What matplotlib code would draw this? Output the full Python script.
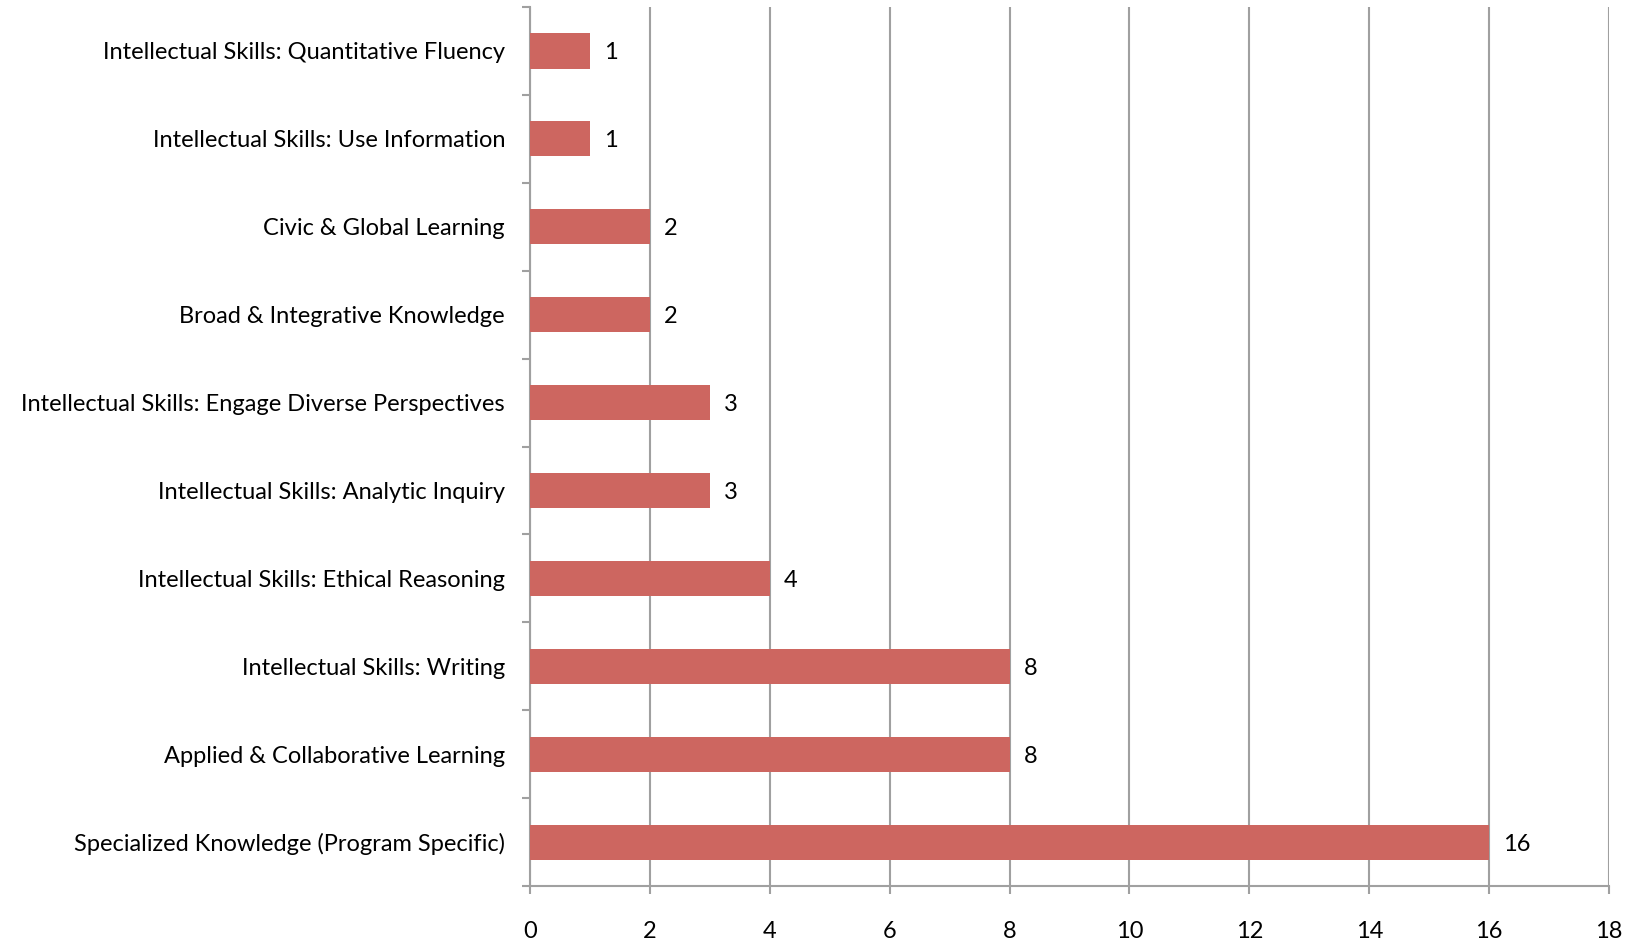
import matplotlib

matplotlib.use("Agg")
import matplotlib.pyplot as plt
from matplotlib.ticker import FixedLocator

# categories listed bottom to top, as drawn
categories = [
    "Specialized Knowledge (Program Specific)",
    "Applied & Collaborative Learning",
    "Intellectual Skills: Writing",
    "Intellectual Skills: Ethical Reasoning",
    "Intellectual Skills: Analytic Inquiry",
    "Intellectual Skills: Engage Diverse Perspectives",
    "Broad & Integrative Knowledge",
    "Civic & Global Learning",
    "Intellectual Skills: Use Information",
    "Intellectual Skills: Quantitative Fluency",
]
counts = [16, 8, 8, 4, 3, 3, 2, 2, 1, 1]
x_ticks = [0, 2, 4, 6, 8, 10, 12, 14, 16, 18]

BAR = "#CD6660"
GREY = "#A0A0A0"

plt.rcParams["font.family"] = ["Lato", "DejaVu Sans"]

fig = plt.figure(figsize=(16.38, 9.44), dpi=100)
ax = fig.add_axes([0.3236, 0.0614, 0.9823 - 0.3236, 0.9926 - 0.0614])

pos = range(len(categories))
bars = ax.barh(pos, counts, height=0.4, color=BAR, zorder=3)
texts = ax.bar_label(bars, labels=[str(v) for v in counts], padding=10, fontsize=17)
for t in texts:
    t.set_va("center_baseline")

ax.set_xlim(0, 18)
ax.set_ylim(-0.5, len(categories) - 0.5)
ax.set_xticks(x_ticks)
ax.set_yticks(list(pos))
ax.set_yticklabels(categories, va="center_baseline")
ax.yaxis.set_minor_locator(FixedLocator([i - 0.5 for i in range(len(categories) + 1)]))

ax.grid(axis="x", color=GREY, lw=1.5, zorder=0)
for side in ("top", "right"):
    ax.spines[side].set_visible(False)
for side in ("left", "bottom"):
    ax.spines[side].set_color(GREY)
    ax.spines[side].set_linewidth(1.5)

ax.tick_params(axis="y", which="major", length=0, pad=18, labelsize=17)
ax.tick_params(axis="y", which="minor", length=6, width=1.5, color=GREY)
ax.tick_params(axis="x", length=6, width=1.5, color=GREY, pad=19.5, labelsize=17)

fig.savefig("out.png", dpi=100)
